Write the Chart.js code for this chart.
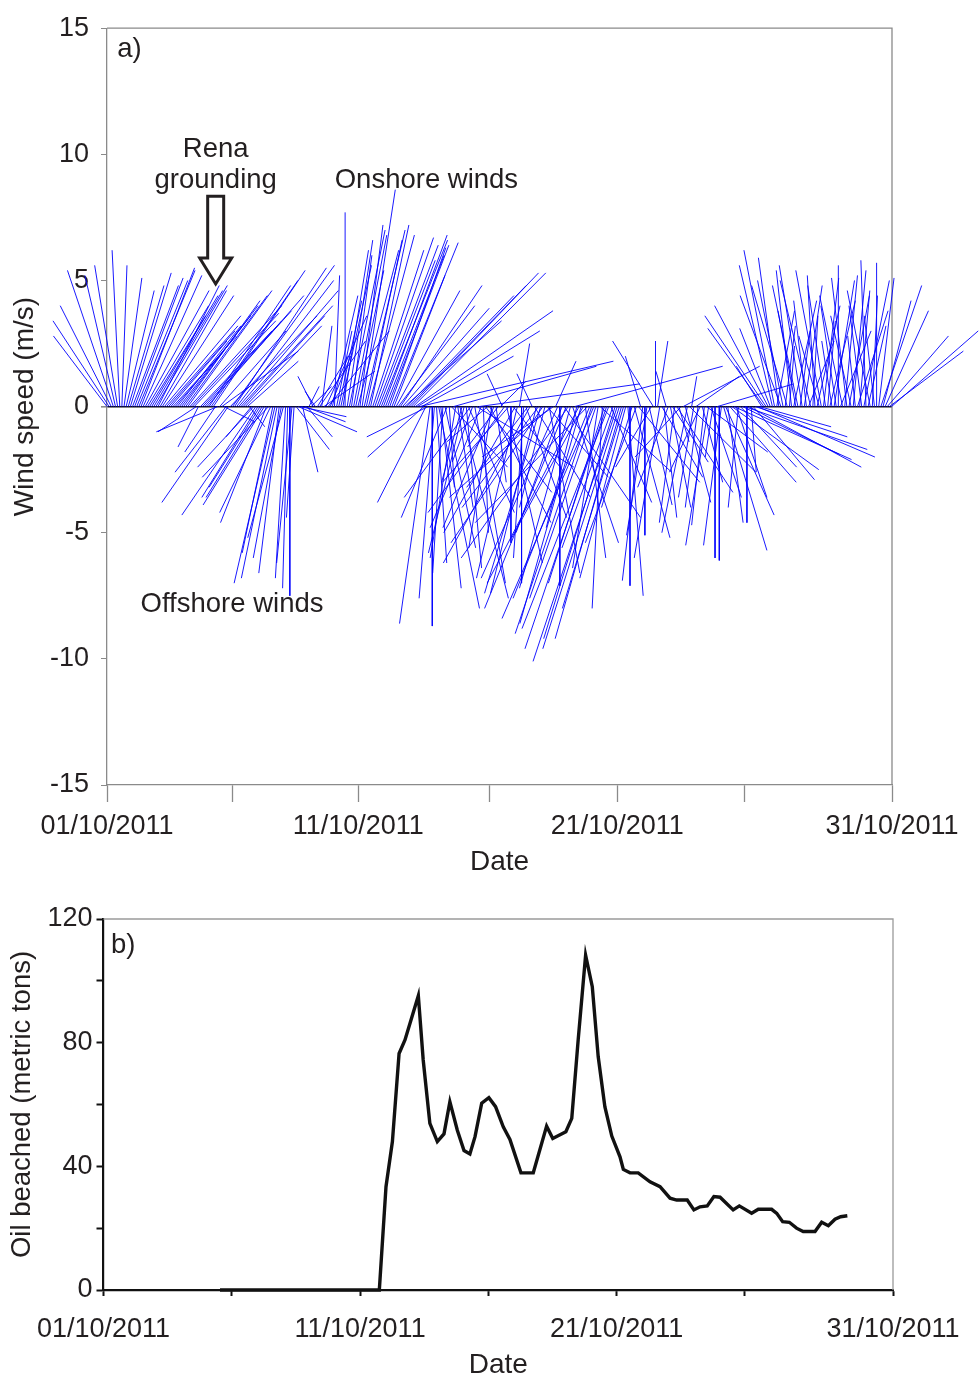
<!DOCTYPE html>
<html>
<head>
<meta charset="utf-8">
<script src="https://cdn.jsdelivr.net/npm/chart.js@4.4.1/dist/chart.umd.min.js"></script>
<style>
  html, body { margin: 0; background: #fff; }
  #wrap { position: relative; width: 979px; height: 1379px; }
  canvas { position: absolute; left: 0; }
  #wind { top: 0; }
  #oil  { top: 880px; }
</style>
</head>
<body>
<div id="wrap">
  <canvas id="wind" width="979" height="880"></canvas>
  <canvas id="oil" width="979" height="499"></canvas>
</div>
<script>
/* ── Wind sticks (a) + oil beached (b), October 2011 ──
   x is days since 01/10/2011 00:00 on both panels. */

const X_MAX = 30.77;                       // axis runs a little past 31/10 00:00
const windTicks  = [0, 4.9, 9.85, 15, 20, 25, 30.77];
const oilTicks   = [0, 5, 10, 15, 20, 25, 30.77];
const dateLabels = ['01/10/2011', '', '11/10/2011', '', '21/10/2011', '', '31/10/2011'];

// 2-hourly wind vectors (m/s), one row per day: u = along-shore (+ right), v = onshore (+ up)
const STEP = 1 / 12;
const windU = [
  [-2.1, -2.2, -2.0, -1.8, -1.2, -0.9, -0.3,  0.2,  0.7,  1.1,  1.4,  1.6],
  [ 1.8,  1.9,  2.0,  2.2,  2.1,  2.3,  2.5,  2.4,  2.2,  2.6,  2.7,  2.8],
  [ 2.4,  2.6,  2.8,  3.0,  2.8,  2.6,  2.2,  2.0,  2.4,  2.5,  2.8,  3.0],
  [ 3.0,  3.2,  3.3,  3.6,  3.4,  3.2, -1.5, -0.8,  2.8,  3.1,  3.4,  3.8],
  [ 3.2,  3.4,  3.6, -1.2, -2.4,  2.6,  3.0,  1.2, -2.0, -2.6,  3.4,  4.0],
  [ 3.6,  3.8,  3.9,  3.6,  3.2,  3.0,  2.0,  0.6, -1.0, -2.2, -2.9, -2.2],
  [-2.0, -2.2, -2.4, -1.8, -2.6, -2.0, -1.2, -1.6, -1.4, -0.8, -1.1, -1.4],
  [-0.4, -0.2,  0.0, -0.6, -0.3,  1.3,  2.3,  1.8,  0.6,  1.6,  1.0,  0.4],
  [ 0.8, -0.6, -0.4,  1.2,  1.8,  0.4,  2.0,  1.6,  2.4,  0.8,  1.0,  0.2],
  [ 0.6,  0.9,  1.2,  1.0,  0.0,  1.0,  1.4,  0.8,  1.3,  1.1,  1.6,  0.9],
  [ 1.3,  1.6,  1.4,  1.8,  1.5,  2.0,  2.3,  2.4,  2.2,  2.6,  2.5,  2.3],
  [ 2.4,  2.2,  2.6,  2.0,  2.5,  3.0,  3.2,  3.4,  3.8,  4.2,  4.6,  5.0],
  [ 5.2,  5.4,  4.8,  7.6,  3.6, -2.2, -1.9, -2.4, -1.2,  0.0, -0.6,  0.4],
  [ 1.6,  0.8, -0.4,  1.2, -1.8,  0.2,  2.2,  5.6, -1.0,  0.6,  1.9, -0.8],
  [-1.4,  0.6,  1.8, -2.6, -0.8,  1.2,  3.8,  6.3, -2.0,  0.2,  2.6, -1.6],
  [ 2.4, -0.9, -2.0,  0.4, -1.2,  1.0, -0.6, -3.0,  1.4, -2.6,  0.0,  2.0],
  [-2.8, -1.6,  0.4,  0.0, -0.4,  1.6, -2.4, -3.4, -0.6,  2.2, -1.8, -3.0],
  [-2.2, -3.6, -1.0,  2.4,  1.2, -4.0, -2.8,  0.8, -3.0,  0.0, -1.8,  3.0],
  [-3.2, -4.2, -2.0,  1.8,  5.8, -1.2, -3.6, -2.4, -2.8,  0.8, -4.4, -3.0],
  [-3.0, -3.6, -2.6, -1.0,  2.8, -0.4, -2.2, -3.2, -3.4,  1.6, -2.0, -2.8],
  [-3.3, -3.0, -2.6, -2.4, -1.8,  0.6,  0.0, -1.2,  1.4, -2.0,  2.4, -0.6],
  [-0.8,  0.0, -0.8,  0.9, -1.4, -1.6,  0.0,  0.4, -1.0,  1.6,  0.5, -0.4],
  [-1.2,  0.8,  1.4, -0.6,  2.2,  0.4, -1.8,  3.0,  1.0, -1.0,  2.6,  0.2],
  [-0.6,  1.7, -0.5, -1.2,  0.8, -0.5,  2.4, -0.9,  1.2, -0.3,  0.0,  3.0],
  [ 0.0, -0.7,  1.7,  1.9,  0.6,  2.6,  3.4,  4.6,  1.2, -0.4,  2.2,  3.8],
  [ 4.8,  0.0,  4.4,  0.2,  2.4,  3.6,  4.6,  2.8, -1.0, -2.2, -2.4, -2.1],
  [-1.2, -1.3, -1.2,  0.7, -0.8, -1.6, -1.0,  0.4, -1.4,  0.2, -0.6,  0.9],
  [-0.7, -1.0,  0.4, -0.9,  0.7, -0.5,  1.0, -1.2,  0.2, -0.3,  0.9, -0.8],
  [-1.0,  0.6, -0.7,  0.3,  1.0, -0.4,  0.8, -0.6,  0.0,  1.2, -0.9,  0.5],
  [-0.6,  0.8, -0.8,  0.5, -0.3,  1.2,  0.4, -0.5,  1.0, -0.2,  0.7, -0.9],
  [ 0.2, -0.4,  0.0,  0.6,  1.6,  1.1,  1.7,  2.4,  2.9,  3.4],
];
const windV = [
  [ 2.8,  3.4,  4.0,  5.4,  5.2,  5.6,  6.2,  5.6,  5.1,  4.6,  4.8,  5.3],
  [ 4.8,  5.1,  5.0,  5.4,  5.5,  5.2,  4.6,  4.0,  3.6,  4.4,  4.6,  4.8],
  [ 4.8,  4.6,  4.4,  3.6,  3.2,  3.0,  2.6,  2.2,  2.8,  3.2,  3.6,  4.0],
  [ 4.2,  4.4,  4.6,  4.0,  3.7,  3.4, -1.0, -1.6,  3.0,  3.4,  3.8,  4.4],
  [ 4.8,  5.0,  5.4, -1.8, -1.0,  3.0,  2.2, -0.6, -2.6, -3.8,  3.6,  5.6],
  [ 5.5,  5.0,  4.6,  4.0,  3.6,  3.2,  1.8, -0.8, -1.2, -2.4, -4.3, -3.6],
  [-3.2, -3.6, -3.9, -4.6, -2.8, -4.2, -5.8, -7.0, -6.8, -6.6, -6.0, -5.2],
  [-6.8, -7.2, -7.5, -6.2, -4.4, -1.7, -1.0, -0.4, -2.6, -0.6, -1.2,  0.8],
  [ 0.8,  1.2,  0.6,  2.0,  2.6,  3.2,  1.4,  3.6,  3.0,  2.0,  4.4,  5.2],
  [ 3.0,  4.2,  5.6,  6.2,  7.7,  6.6,  7.0,  6.0,  6.8,  5.4,  6.2,  7.2],
  [ 8.6,  7.0,  6.6,  6.8,  7.2,  6.2,  6.7,  6.4,  5.8,  6.6,  6.8,  6.0],
  [ 6.4,  6.3,  6.5,  5.2,  4.6,  4.0,  4.8,  3.9,  3.4,  4.4,  4.8,  5.3],
  [ 5.3,  3.8,  3.0,  1.8,  2.0, -2.0, -3.8, -1.2, -8.6, -8.7, -7.6, -6.2],
  [-8.0, -7.2, -6.6, -5.6, -4.4, -3.2, -2.4,  1.6, -6.0, -4.0, -7.6, -3.0],
  [-5.8, -6.4, -4.2, -3.6, -2.2, -7.0, -2.4,  0.9, -4.8, -5.0, -3.4, -1.4],
  [-4.6, -5.6, -4.8, -3.0, -1.6,  1.0,  1.3, -4.2, -6.2, -3.0, -5.4, -2.6],
  [-5.0, -6.8,  2.5, -7.0, -6.0, -4.4, -3.2, -6.2,  1.3, -3.6, -7.4, -4.0],
  [-7.4, -5.4, -4.0, -2.8, -6.6, -3.6, -2.0,  1.8, -6.8, -7.1, -5.0, -4.4],
  [-8.0, -6.0, -7.2, -5.4,  1.6, -4.8, -7.0, -8.6, -5.2, -6.0, -4.6, -7.6],
  [-9.0, -8.4, -7.6, -6.4, -2.6, -8.0, -7.0, -9.6, -8.8, -3.8, -5.6, -9.2],
  [-10.1, -9.6, -9.2, -8.0, -6.8, -7.5, -7.1, -4.0, -5.2, -5.4, -3.0,  2.0],
  [-6.9, -5.1, -5.1, -3.9, -2.4,  2.6,  2.6,  2.6, -6.0, -2.8, -4.4,  1.4],
  [-3.2, -4.0, -2.2, -4.6, -3.4, -1.4, -2.0,  1.6, -3.8, -5.0, -2.6,  1.2],
  [-3.6,  1.2, -4.0, -2.6, -3.0, -4.7, -1.8, -5.5, -3.6, -2.0, -6.0,  0.9],
  [-6.1, -5.5, -5.7, -4.3, -4.6, -3.0, -2.5, -2.1, -3.6, -4.0, -2.4, -1.9],
  [-1.7, -4.6, -2.4, -2.6, -2.9, -1.2, -2.0, -0.8,  1.6,  3.1,  3.6,  4.0],
  [ 3.1,  5.6,  6.2,  3.8,  5.9,  4.4,  5.0,  3.2,  4.8,  2.4,  5.4,  4.2],
  [ 3.8,  4.8,  3.0,  5.6,  4.8,  4.2,  2.6,  5.0,  3.6,  5.2,  4.0,  2.8],
  [ 5.4,  5.1,  4.8,  3.4,  4.2,  2.6,  5.0,  4.0,  5.6,  3.0,  4.4,  5.2],
  [ 5.1,  4.4,  3.6,  5.4,  2.8,  3.8,  4.6,  4.0,  5.0,  5.8,  3.2,  4.6],
  [ 4.4,  3.6,  5.7,  5.1,  4.8,  4.2,  3.8,  2.8,  2.2,  3.0],
];
const U_TO_DAYS = 1.0;   // axes are drawn ~1:1 (1 m/s across ≈ 1 day)

// Oil beached (metric tons) against day of month
const oilDay = [4.54, 10.75, 11.01, 11.26, 11.52, 11.75, 12.27, 12.46, 12.72, 13.01, 13.27, 13.50,
  13.79, 14.05, 14.28, 14.48, 14.74, 15.02, 15.28, 15.58, 15.84, 16.27, 16.75, 17.27, 17.51, 18.02,
  18.25, 18.50, 18.79, 19.05, 19.28, 19.54, 19.81, 20.13, 20.26, 20.52, 20.84, 21.30, 21.69, 22.08,
  22.34, 22.75, 23.01, 23.25, 23.53, 23.79, 24.03, 24.54, 24.78, 25.26, 25.52, 26.04, 26.24, 26.47,
  26.73, 27.01, 27.27, 27.73, 27.99, 28.25, 28.51, 28.73, 28.99];
const oilTons = [0, 0, 33.4, 48.0, 76.5, 80.9, 95.2, 74.4, 53.9, 48.0, 50.5, 60.9,
  51.7, 45.1, 44.0, 49.6, 60.4, 62.2, 59.3, 52.8, 48.7, 37.9, 37.9, 53.0, 49.0, 51.2,
  55.5, 80.9, 108.3, 98.1, 75.5, 59.3, 49.8, 43.1, 39.0, 37.9, 37.9, 35.0, 33.4, 29.7,
  29.1, 29.1, 25.9, 26.9, 27.2, 30.2, 30.0, 25.9, 27.2, 24.8, 26.1, 26.1, 24.8, 22.1,
  21.9, 20.0, 18.9, 18.9, 21.9, 20.8, 22.9, 23.7, 24.0];

// Annotation anchors (data units)
const GROUNDING_DAY = 4.26;

const INK = '#231f20';
Chart.defaults.font.family = "'Liberation Sans', Arial, sans-serif";
Chart.defaults.color = INK;

/* ── helpers ── */
const frame = color => ({
  id: 'frame',
  beforeDatasetsDraw(chart) {
    const { ctx, chartArea: a } = chart;
    ctx.save();
    ctx.strokeStyle = color; ctx.lineWidth = 1.3;
    ctx.beginPath();
    ctx.moveTo(a.left, a.top); ctx.lineTo(a.right, a.top); ctx.lineTo(a.right, a.bottom);
    ctx.stroke();
    ctx.restore();
  }
});

function label(chart, text, xv, yv, align) {
  const { ctx, scales } = chart;
  ctx.save();
  ctx.font = "27.5px 'Liberation Sans', Arial, sans-serif";
  ctx.fillStyle = INK;
  ctx.textAlign = align || 'center';
  ctx.textBaseline = 'middle';
  ctx.fillText(text, scales.x.getPixelForValue(xv), scales.y.getPixelForValue(yv));
  ctx.restore();
}

/* ── (a) wind stick plot ── */
const sticks = [];
windU.forEach((row, d) => row.forEach((u, k) => {
  const t = d + k * STEP;
  sticks.push({ x: t, y: 0 }, { x: t + u * U_TO_DAYS, y: windV[d][k] }, { x: t, y: null });
}));

const windNotes = {
  id: 'windNotes',
  afterDatasetsDraw(chart) {
    const { ctx, scales: { x, y } } = chart;
    label(chart, 'a)', 0.4, 14.15, 'left');
    label(chart, 'Rena', GROUNDING_DAY, 10.2);
    label(chart, 'grounding', GROUNDING_DAY, 8.97);
    label(chart, 'Onshore winds', 12.52, 8.97);
    label(chart, 'Offshore winds', 4.9, -7.86);

    // hollow arrow pointing down at the grounding date
    const ax = x.getPixelForValue(GROUNDING_DAY);
    const top = y.getPixelForValue(8.34), tip = y.getPixelForValue(4.86);
    const sw = 8, hw = 16, hh = 26;
    ctx.save();
    ctx.beginPath();
    ctx.moveTo(ax - sw, top); ctx.lineTo(ax + sw, top); ctx.lineTo(ax + sw, tip - hh);
    ctx.lineTo(ax + hw, tip - hh); ctx.lineTo(ax, tip); ctx.lineTo(ax - hw, tip - hh);
    ctx.lineTo(ax - sw, tip - hh); ctx.closePath();
    ctx.fillStyle = '#fff'; ctx.fill();
    ctx.lineWidth = 3; ctx.lineJoin = 'miter'; ctx.strokeStyle = INK; ctx.stroke();
    ctx.restore();
  }
};

new Chart('wind', {
  type: 'line',
  data: {
    datasets: [{
      data: sticks,
      borderColor: 'rgba(0, 0, 255, 0.9)',
      borderWidth: 1,
      pointRadius: 0,
      spanGaps: false,
      clip: false,
    }]
  },
  options: {
    responsive: false, animation: false, events: [],
    layout: { padding: { top: 22, right: 87, left: 0, bottom: 0 } },
    plugins: { legend: { display: false }, tooltip: { enabled: false } },
    scales: {
      x: {
        type: 'linear', min: 0, max: X_MAX,
        afterBuildTicks: s => { s.ticks = windTicks.map(v => ({ value: v })); },
        afterFit: s => { s.height = 95; },
        ticks: { autoSkip: false, maxRotation: 0, padding: 8, font: { size: 27 },
                 callback: (v, i) => dateLabels[i] },
        grid: { drawOnChartArea: false, tickLength: 17, tickColor: '#8a8a8a', tickWidth: 1.3 },
        border: { color: '#8a8a8a', width: 1.3 },
        title: { display: true, text: 'Date', font: { size: 28, lineHeight: 1 }, padding: { top: 0, bottom: 4 } }
      },
      y: {
        min: -15, max: 15,
        afterFit: s => { s.width = 107; },
        ticks: { stepSize: 5, padding: 12, font: { size: 27 } },
        grid: {
          color: c => c.tick && c.tick.value === 0 ? '#111' : 'rgba(0,0,0,0)',
          lineWidth: c => c.tick && c.tick.value === 0 ? 1.6 : 1,
          tickColor: '#8a8a8a', tickLength: 6
        },
        border: { color: '#8a8a8a', width: 1.3 },
        title: { display: true, text: 'Wind speed (m/s)', font: { size: 28, lineHeight: 1 }, padding: { top: 11, bottom: 0 } }
      }
    }
  },
  plugins: [frame('#8a8a8a'), windNotes]
});

/* ── (b) oil beached ── */
const oilNotes = {
  id: 'oilNotes',
  afterDatasetsDraw(chart) { label(chart, 'b)', 0.29, 111.5, 'left'); }
};

new Chart('oil', {
  type: 'line',
  data: {
    datasets: [{
      data: oilDay.map((d, i) => ({ x: d, y: oilTons[i] })),
      borderColor: '#111',
      borderWidth: 3.4,
      pointRadius: 0,
      tension: 0,
      clip: false,
    }]
  },
  options: {
    responsive: false, animation: false, events: [],
    layout: { padding: { top: 39, right: 86, left: 0, bottom: 0 } },
    plugins: { legend: { display: false }, tooltip: { enabled: false } },
    scales: {
      x: {
        type: 'linear', min: 0, max: X_MAX,
        afterBuildTicks: s => { s.ticks = oilTicks.map(v => ({ value: v })); },
        afterFit: s => { s.height = 89; },
        ticks: { autoSkip: false, maxRotation: 0, padding: 17, font: { size: 27 },
                 callback: (v, i) => dateLabels[i] },
        grid: { drawOnChartArea: false, tickLength: 6, tickColor: '#111', tickWidth: 2 },
        border: { color: '#111', width: 2.2 },
        title: { display: true, text: 'Date', font: { size: 28, lineHeight: 1 }, padding: { top: 0, bottom: 0 } }
      },
      y: {
        min: 0, max: 120,
        afterFit: s => { s.width = 103.5; },
        ticks: { stepSize: 20, padding: 4, font: { size: 27 },
                 callback: v => (v % 40 === 0 ? v : '') },
        grid: { drawOnChartArea: false, tickLength: 7, tickColor: '#111', tickWidth: 2 },
        border: { color: '#111', width: 2.2 },
        title: { display: true, text: 'Oil beached (metric tons)', font: { size: 27.5, lineHeight: 1 }, padding: { top: 9, bottom: 0 } }
      }
    }
  },
  plugins: [frame('#9a9a9a'), oilNotes]
});
</script>
</body>
</html>
